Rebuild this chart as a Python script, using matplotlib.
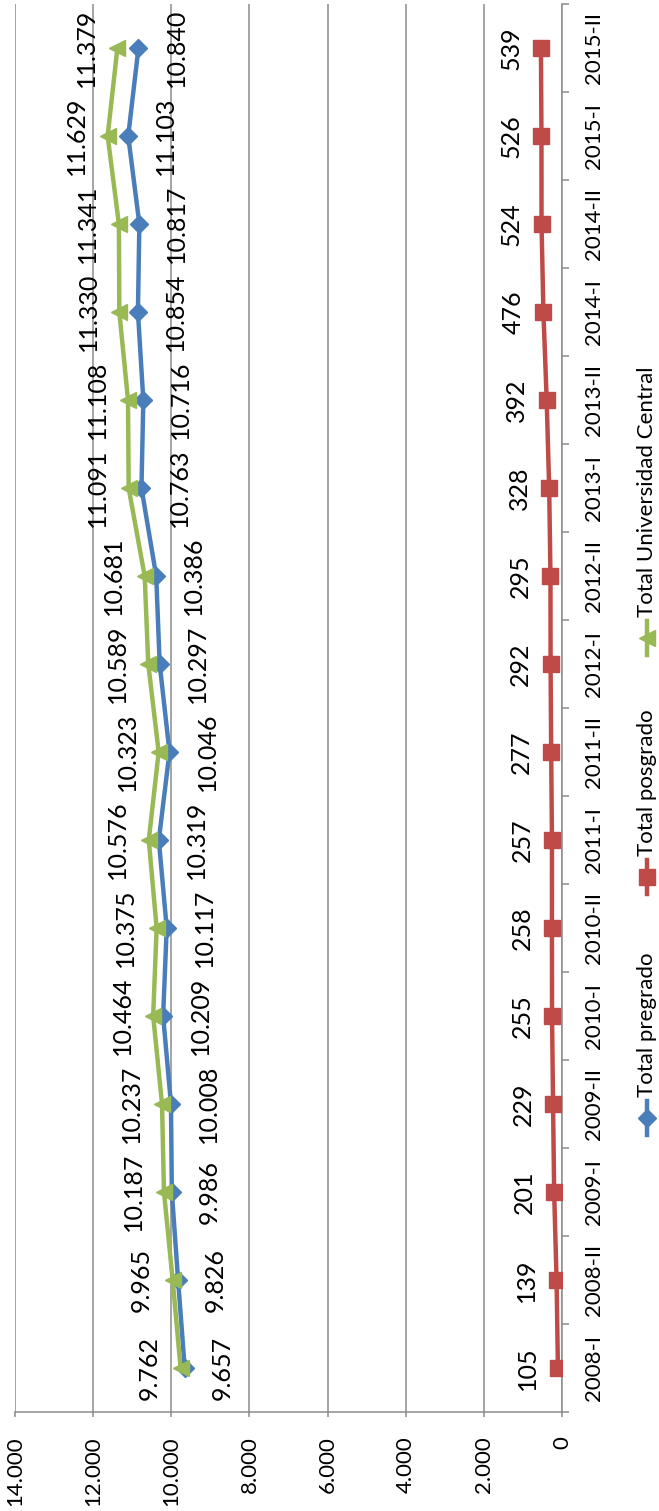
import matplotlib
matplotlib.use('Agg')
import matplotlib.pyplot as plt
from matplotlib.ticker import FuncFormatter, MultipleLocator, FixedLocator

# semestres y totales de estudiantes
semesters = ['2008-I', '2008-II', '2009-I', '2009-II', '2010-I', '2010-II',
             '2011-I', '2011-II', '2012-I', '2012-II', '2013-I', '2013-II',
             '2014-I', '2014-II', '2015-I', '2015-II']
pregrado = [9657, 9826, 9986, 10008, 10209, 10117, 10319, 10046,
            10297, 10386, 10763, 10716, 10854, 10817, 11103, 10840]
posgrado = [105, 139, 201, 229, 255, 258, 257, 277,
            292, 295, 328, 392, 476, 524, 526, 539]
central = [9762, 9965, 10187, 10237, 10464, 10375, 10576, 10323,
           10589, 10681, 11091, 11108, 11330, 11341, 11629, 11379]

BLUE = '#4A7EBB'
RED = '#BE4B48'
GREEN = '#98B954'
GRAY = '#8C8C8C'
FONT = 'Lato'

plt.rcParams['font.family'] = [FONT, 'DejaVu Sans']

W, H = 659, 1511
fig = plt.figure(figsize=(W / 100, H / 100), dpi=100)
ax = fig.add_axes([15 / W, 99 / H, 547 / W, 1408 / H])

idx = list(range(len(semesters)))


def fmt(v):
    return f'{int(v):,}'.replace(',', '.')


series = [
    (pregrado, BLUE, 'D', 8.7, 27.0),
    (posgrado, RED, 's', 11.0, -21.6),
    (central, GREEN, '<', 11.5, -22.3),
]
for vals, col, mk, ms, off in series:
    ax.plot(vals, idx, color=col, lw=3.2, marker=mk, ms=ms,
            markeredgecolor=col, solid_joinstyle='round', zorder=3)
    for v, i in zip(vals, idx):
        ax.annotate(fmt(v), (v, i), xytext=(off, 0), textcoords='offset points',
                    rotation=90, ha='center', va='center', fontsize=18,
                    color='black', zorder=4)

ax.set_xlim(14000, 0)
ax.set_ylim(-0.5, len(semesters) - 0.5)
ax.xaxis.set_major_locator(MultipleLocator(2000))
ax.xaxis.set_major_formatter(FuncFormatter(lambda v, p: fmt(v)))
ax.grid(axis='x', color=GRAY, lw=1.1, zorder=0)
ax.tick_params(axis='x', direction='out', length=3.6, width=1.1, color=GRAY,
               pad=14, labelsize=16, labelrotation=90)

ax.yaxis.tick_right()
ax.set_yticks(idx)
ax.set_yticklabels(semesters, rotation=90, va='center')
ax.yaxis.set_minor_locator(FixedLocator([i - 0.5 for i in range(len(semesters) + 1)]))
ax.tick_params(axis='y', which='major', length=0, pad=16, labelsize=16)
ax.tick_params(axis='y', which='minor', direction='out', length=5, width=1.1, color=GRAY)

for s in ['top', 'left']:
    ax.spines[s].set_visible(False)
for s in ['right', 'bottom']:
    ax.spines[s].set_color(GRAY)
    ax.spines[s].set_linewidth(1.1)

# leyenda manual (girada)
lax = fig.add_axes([0, 0, 1, 1])
lax.set_xlim(0, W)
lax.set_ylim(H, 0)
lax.axis('off')
lax.patch.set_visible(False)
legend_names = ['Total pregrado', 'Total posgrado', 'Total Universidad Central']
legend_y = [1118, 877, 638]
for name, ly, (vals, col, mk, ms, off) in zip(legend_names, legend_y, series):
    lax.plot([647, 647], [ly - 17, ly + 17], color=col, lw=3.2)
    lax.plot([647], [ly], marker=mk, ms=ms, color=col, markeredgecolor=col)
    lax.text(647, ly - 21, name, rotation=90, ha='center', va='bottom', fontsize=16)

fig.savefig('out.png', dpi=100)
